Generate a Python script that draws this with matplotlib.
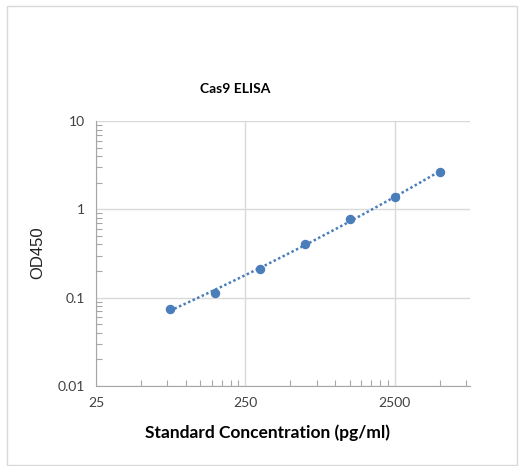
import numpy as np
import matplotlib
matplotlib.use("Agg")
import matplotlib.pyplot as plt
from matplotlib.patches import Rectangle
from matplotlib.ticker import FixedLocator, LogLocator, NullFormatter

# standard curve values
conc = [78.125, 156.25, 312.5, 625, 1250, 2500, 5000]   # pg/ml
od450 = [0.075, 0.114, 0.21, 0.40, 0.77, 1.38, 2.63]

x_ticks = [25, 250, 2500]
x_tick_labels = ["25", "250", "2500"]
y_ticks = [0.01, 0.1, 1, 10]
y_tick_labels = ["0.01", "0.1", "1", "10"]

BLUE = "#4A7EBB"
GRID = "#D9D9D9"
TEXT = "#404040"

fig = plt.figure(figsize=(5.23, 4.66), dpi=100)
fig.patches.append(Rectangle((7 / 523, 1 / 466), 510 / 523, 459 / 466,
                             transform=fig.transFigure, fill=False,
                             edgecolor="#D9D9D9", linewidth=1.0))

ax = fig.add_axes([0.1836, 0.1717, 0.7151, 0.5686])
ax.set_xscale("log")
ax.set_yscale("log")
ax.set_xlim(25, 8000)
ax.set_ylim(0.01, 10)

# dotted trendline: smooth fit through the points in log-log space
lx, ly = np.log10(conc), np.log10(od450)
coef = np.polyfit(lx, ly, 2)
xs = np.linspace(lx[0], lx[-1], 100)
ax.plot(10 ** xs, 10 ** np.polyval(coef, xs), linestyle=(0, (1, 1.0)),
        color=BLUE, linewidth=1.8, zorder=2)
ax.plot(conc, od450, "o", color=BLUE, markersize=5.8, zorder=3)

# ticks / grid
ax.xaxis.set_major_locator(FixedLocator(x_ticks))
ax.set_xticklabels(x_tick_labels)
ax.xaxis.set_minor_locator(FixedLocator([25 * k * 10 ** d for d in range(3)
                                         for k in range(2, 10)]))
ax.xaxis.set_minor_formatter(NullFormatter())
ax.yaxis.set_major_locator(FixedLocator(y_ticks))
ax.set_yticklabels(y_tick_labels)
ax.yaxis.set_minor_locator(LogLocator(base=10, subs=np.arange(2, 10)))
ax.yaxis.set_minor_formatter(NullFormatter())

ax.grid(True, which="major", color=GRID, linewidth=1.0)
ax.tick_params(which="major", length=0, labelsize=10, labelcolor=TEXT, pad=8)
ax.tick_params(which="minor", direction="in", length=4, color="#A6A6A6", width=0.8)
for s in ["top", "right"]:
    ax.spines[s].set_visible(False)
for s in ["left", "bottom"]:
    ax.spines[s].set_color("#A6A6A6")

for lab in ax.get_xticklabels() + ax.get_yticklabels():
    lab.set_family("Lato")

fig.text(0.449, 0.809, "Cas9 ELISA", ha="center", va="center",
         fontsize=10, fontweight="bold", family="Lato")
fig.text(0.511, 0.071, "Standard Concentration (pg/ml)", ha="center", va="center",
         fontsize=12.5, fontweight="bold", family="Lato")
fig.text(0.073, 0.457, "OD450", ha="center", va="center", rotation=90,
         fontsize=12, family="Liberation Sans", color="#222222")

fig.savefig("out.png", dpi=100)
